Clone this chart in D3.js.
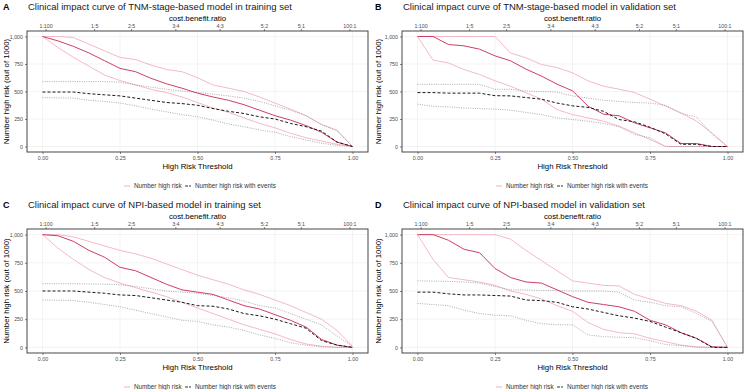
<!DOCTYPE html>
<html>
<head>
<meta charset="utf-8">
<script src="https://cdn.jsdelivr.net/npm/d3@7"></script>
<style>
  body { margin: 0; background: #fff; }
  svg { display: block; font-family: "Liberation Sans", Arial, sans-serif; }
</style>
</head>
<body>
<svg id="chart" width="744" height="390"></svg>
<script>
// thresholds shared by every curve
const thresholds = [0, 0.05, 0.1, 0.15, 0.2, 0.25, 0.3, 0.35, 0.4, 0.45, 0.5,
                    0.55, 0.6, 0.65, 0.7, 0.75, 0.8, 0.85, 0.9, 0.95, 1];
const yTicks = [0, 250, 500, 750, 1000];
const xTicks = [0, 0.25, 0.5, 0.75, 1];
const costLabels = ["1:100", "1:5", "2:5", "3:4", "4:3", "5:2", "5:1", "100:1"];
const costThresholds = [1 / 101, 1 / 6, 2 / 7, 3 / 7, 4 / 7, 5 / 7, 5 / 6, 100 / 101];

// A: TNM training
const aRisk    = [1000, 960, 910, 850, 780, 710, 680, 620, 570, 530, 485, 450, 420, 380, 330, 280, 240, 190, 130, 40, 0];
const aRiskHi  = [1000, 1000, 990, 930, 870, 810, 790, 740, 700, 680, 625, 560, 530, 500, 450, 395, 340, 280, 200, 150, 0];
const aRiskLo  = [1000, 900, 810, 730, 650, 600, 560, 520, 490, 450, 400, 350, 310, 260, 210, 170, 120, 80, 50, 20, 0];
const aEvent   = [495, 495, 495, 480, 470, 460, 440, 420, 400, 390, 375, 345, 320, 300, 270, 250, 210, 180, 140, 40, 0];
const aEventHi = [590, 590, 590, 590, 590, 585, 560, 540, 520, 505, 490, 475, 460, 440, 410, 370, 330, 280, 200, 140, 0];
const aEventLo = [445, 442, 440, 420, 410, 395, 370, 340, 315, 290, 270, 240, 205, 180, 150, 130, 90, 60, 30, 10, 0];

// B: TNM validation
const bRisk    = [1000, 1000, 927, 915, 885, 824, 779, 703, 640, 567, 506, 367, 294, 279, 215, 170, 124, 27, 27, 0, 0];
const bRiskHi  = [1000, 1000, 1000, 1000, 1000, 1000, 850, 806, 745, 718, 670, 597, 548, 521, 491, 430, 367, 306, 230, 124, 0];
const bRiskLo  = [1000, 785, 760, 700, 655, 597, 548, 488, 430, 336, 290, 260, 230, 185, 124, 64, 0, 0, 0, 0, 0];
const bEvent   = [490, 490, 485, 485, 485, 462, 460, 445, 430, 395, 370, 355, 320, 245, 225, 175, 115, 20, 20, 0, 0];
const bEventHi = [565, 565, 565, 565, 565, 520, 520, 505, 500, 495, 460, 440, 420, 410, 400, 395, 375, 300, 270, 110, 0];
const bEventLo = [385, 365, 360, 350, 345, 340, 330, 310, 290, 260, 245, 230, 210, 180, 110, 80, 0, 0, 0, 0, 0];

// C: NPI training
const cRisk    = [1000, 990, 940, 860, 800, 710, 680, 620, 560, 510, 490, 470, 420, 370, 340, 290, 240, 180, 70, 20, 0];
const cRiskHi  = [1000, 1000, 980, 940, 900, 860, 830, 790, 740, 690, 640, 600, 560, 510, 470, 420, 370, 310, 250, 150, 10];
const cRiskLo  = [1000, 880, 780, 690, 620, 570, 530, 490, 450, 400, 350, 300, 250, 200, 160, 120, 70, 30, 10, 0, 0];
const cEvent   = [500, 500, 500, 490, 480, 465, 460, 440, 420, 400, 370, 365, 340, 300, 280, 250, 210, 170, 60, 20, 0];
const cEventHi = [565, 565, 565, 563, 560, 555, 540, 520, 500, 490, 480, 460, 440, 410, 370, 350, 300, 250, 200, 100, 10];
const cEventLo = [420, 418, 415, 400, 380, 360, 330, 300, 270, 240, 230, 200, 180, 150, 110, 80, 40, 20, 5, 0, 0];

// D: NPI validation
const dRisk    = [1000, 1000, 950, 870, 840, 700, 620, 580, 570, 510, 450, 400, 380, 360, 320, 240, 200, 130, 80, 5, 0];
const dRiskHi  = [1000, 1000, 1000, 1000, 1000, 1000, 960, 860, 770, 680, 590, 570, 550, 545, 470, 430, 390, 370, 320, 240, 0];
const dRiskLo  = [1000, 780, 620, 600, 580, 550, 500, 470, 430, 370, 320, 220, 160, 130, 120, 80, 50, 20, 5, 0, 0];
const dEvent   = [490, 490, 475, 465, 465, 460, 455, 420, 415, 400, 360, 340, 310, 280, 260, 230, 180, 130, 80, 0, 0];
const dEventHi = [590, 588, 585, 580, 570, 540, 510, 510, 505, 505, 500, 500, 500, 490, 420, 400, 370, 360, 300, 230, 0];
const dEventLo = [390, 380, 370, 330, 300, 285, 280, 240, 210, 200, 200, 110, 95, 90, 85, 60, 25, 15, 0, 0, 0];

const panels = [
  { tag: "A", title: "Clinical impact curve of TNM-stage-based model in training set",
    risk: aRisk, riskHi: aRiskHi, riskLo: aRiskLo, ev: aEvent, evHi: aEventHi, evLo: aEventLo,
    ox: 0, left: 27, right: 368, top: 31, bottom: 152, dy: 0 },
  { tag: "B", title: "Clinical impact curve of TNM-stage-based model in validation set",
    risk: bRisk, riskHi: bRiskHi, riskLo: bRiskLo, ev: bEvent, evHi: bEventHi, evLo: bEventLo,
    ox: 372, left: 402, right: 743, top: 31, bottom: 152, dy: 0 },
  { tag: "C", title: "Clinical impact curve of NPI-based model in training set",
    risk: cRisk, riskHi: cRiskHi, riskLo: cRiskLo, ev: cEvent, evHi: cEventHi, evLo: cEventLo,
    ox: 0, left: 27, right: 368, top: 229, bottom: 353, dy: 198 },
  { tag: "D", title: "Clinical impact curve of NPI-based model in validation set",
    risk: dRisk, riskHi: dRiskHi, riskLo: dRiskLo, ev: dEvent, evHi: dEventHi, evLo: dEventLo,
    ox: 372, left: 402, right: 743, top: 229, bottom: 353, dy: 198 }
];

const riskCol = "#cf3f63";
const riskCiCol = "#f1a7b7";
const svg = d3.select("#chart");

panels.forEach(p => {
  const g = svg.append("g");
  const padX = (p.right - p.left) / 1.1 * 0.05;
  const padY = (p.bottom - p.top) / 1.1 * 0.05;
  const x = d3.scaleLinear().domain([0, 1]).range([p.left + padX, p.right - padX]);
  const y = d3.scaleLinear().domain([0, 1000]).range([p.bottom - padY, p.top + padY]);

  // grid
  g.selectAll(".gx").data(xTicks).enter().append("line")
    .attr("x1", d => x(d)).attr("x2", d => x(d))
    .attr("y1", p.top).attr("y2", p.bottom)
    .attr("stroke", "#ebebeb").attr("stroke-width", 0.6);
  g.selectAll(".gy").data(yTicks).enter().append("line")
    .attr("x1", p.left).attr("x2", p.right)
    .attr("y1", d => y(d)).attr("y2", d => y(d))
    .attr("stroke", "#ebebeb").attr("stroke-width", 0.6);

  const line = vals => d3.line()
    .x((d, i) => x(thresholds[i]))
    .y(d => y(d))(vals);

  // curves
  [[p.riskHi, riskCiCol, 0.8, null], [p.riskLo, riskCiCol, 0.8, null],
   [p.evHi, "#8a8a8a", 0.7, "1,1.3"], [p.evLo, "#8a8a8a", 0.7, "1,1.3"],
   [p.risk, riskCol, 1.0, null], [p.ev, "#1a1a1a", 1.0, "3,2"]].forEach(c => {
    g.append("path").attr("d", line(c[0]))
      .attr("fill", "none").attr("stroke", c[1]).attr("stroke-width", c[2])
      .attr("stroke-dasharray", c[3]);
  });

  // border
  g.append("rect").attr("x", p.left).attr("y", p.top)
    .attr("width", p.right - p.left).attr("height", p.bottom - p.top)
    .attr("fill", "none").attr("stroke", "#333").attr("stroke-width", 0.9);

  // axes
  const axB = g.append("g").attr("transform", `translate(0,${p.bottom})`)
    .call(d3.axisBottom(x).tickValues(xTicks).tickFormat(d3.format(".2f")).tickSize(2).tickPadding(2));
  const axL = g.append("g").attr("transform", `translate(${p.left},0)`)
    .call(d3.axisLeft(y).tickValues(yTicks).tickSize(2).tickPadding(2));
  const axT = g.append("g").attr("transform", `translate(0,${p.top})`)
    .call(d3.axisTop(x).tickValues(costThresholds).tickFormat((d, i) => costLabels[i]).tickSize(2).tickPadding(1.5));
  [axB, axL, axT].forEach(a => {
    a.select(".domain").remove();
    a.selectAll(".tick line").attr("stroke", "#333").attr("stroke-width", 0.6);
    a.selectAll(".tick text").attr("fill", "#4d4d4d").style("font-size", "5.3px")
      .style("font-family", "Liberation Sans, Arial, sans-serif");
  });

  // titles
  g.append("text").attr("x", p.ox + 3).attr("y", 9.5 + p.dy)
    .style("font-size", "9px").style("font-weight", "bold").text(p.tag);
  g.append("text").attr("x", p.left + 1).attr("y", 9.5 + p.dy)
    .style("font-size", "9.5px").attr("fill", "#1a1a1a").text(p.title);
  g.append("text").attr("x", (p.left + p.right) / 2).attr("y", 21 + p.dy)
    .attr("text-anchor", "middle").style("font-size", "7.8px").text("cost.benefit.ratio");
  g.append("text").attr("x", (p.left + p.right) / 2).attr("y", p.bottom + 17)
    .attr("text-anchor", "middle").style("font-size", "7.8px").text("High Risk Threshold");
  g.append("text")
    .attr("transform", `translate(${p.ox + 8.5},${(p.top + p.bottom) / 2}) rotate(-90)`)
    .attr("text-anchor", "middle").style("font-size", "7.8px").text("Number high risk (out of 1000)");

  // legend
  const lg = g.append("g").attr("transform", `translate(${p.ox + 124},${p.bottom + 34})`);
  const items = [{ label: "Number high risk", col: riskCiCol, dash: null, w: 61 },
                 { label: "Number high risk with events", col: "#1a1a1a", dash: "3,1", w: 0 }];
  let off = 0;
  items.forEach(it => {
    lg.append("line").attr("x1", off).attr("x2", off + 6).attr("y1", 0).attr("y2", 0)
      .attr("stroke", it.col).attr("stroke-width", 0.9).attr("stroke-dasharray", it.dash);
    lg.append("text").attr("x", off + 10).attr("y", 2.2)
      .style("font-size", "6.3px").attr("fill", "#333").text(it.label);
    off += it.w;
  });
});
</script>
</body>
</html>
